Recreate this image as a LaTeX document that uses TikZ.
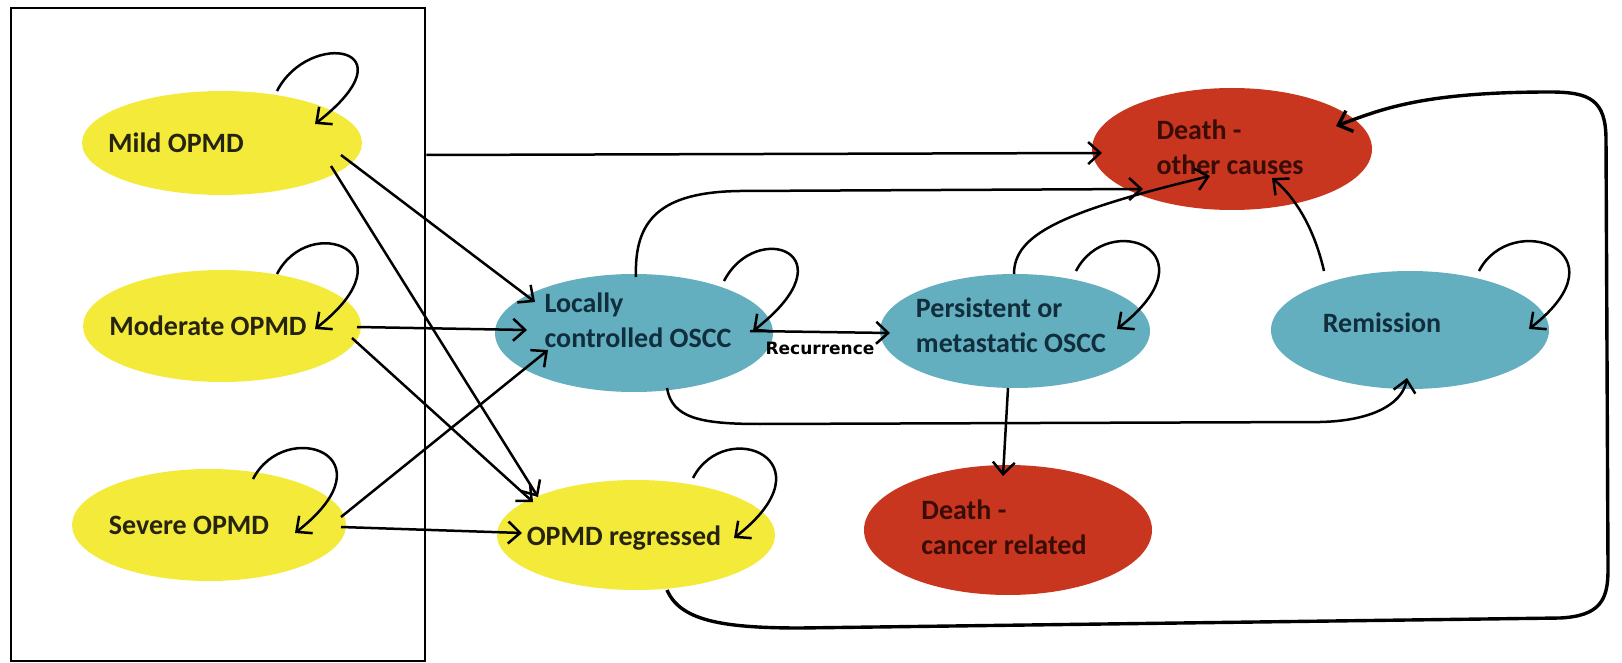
\documentclass[tikz,border=0pt]{standalone}
\usepackage{fontspec}
\setmainfont{Carlito}
\newfontfamily\recfont{DejaVu Sans}
\usepackage{tikz}
\usetikzlibrary{arrows.meta,positioning,shapes.geometric,calc}
\definecolor{opmdyellow}{HTML}{F3EA3A}
\definecolor{osccteal}{HTML}{63AEBF}
\definecolor{deathred}{HTML}{C8361F}
\definecolor{opmdink}{HTML}{262410}
\definecolor{osccink}{HTML}{102E3C}
\definecolor{deathink}{HTML}{3A0C06}

\begin{document}
\begin{tikzpicture}[x=0.5pt,y=-0.5pt,
state/.style={ellipse,inner sep=0pt,outer sep=0pt},
opmd/.style={state,fill=opmdyellow},
oscc/.style={state,fill=osccteal},
death/.style={state,fill=deathred},
txt/.style={font=\fontsize{14}{17.5}\selectfont\bfseries,align=left},
arr/.style={-{Straight Barb[length=6pt,width=11pt]},line width=1.25pt},
big/.style={arr,line width=1.7pt}
]
\useasboundingbox (0,0) rectangle (1622,663);

% OPMD states
\node[draw,line width=1.2pt,anchor=north west,inner sep=0pt,
minimum width=207pt,minimum height=326.5pt] (panel) at (10,7) {};
\node[opmd,minimum width=140pt,minimum height=52pt,
label={[txt,text=opmdink,xshift=-23pt]center:Mild OPMD}] (mild) at (222,143) {};
\node[opmd,minimum width=139pt,minimum height=56pt,
label={[txt,text=opmdink,xshift=-7pt]center:Moderate OPMD}] (moderate) at (222,326) {};
\node[opmd,minimum width=137pt,minimum height=56pt,
label={[txt,text=opmdink,xshift=-10pt]center:Severe OPMD}] (severe) at (209,525) {};
\node[opmd,minimum width=139pt,minimum height=55pt,
label={[txt,text=opmdink,xshift=-6pt,yshift=-1.5pt]center:OPMD regressed}] (regressed) at (636,535) {};

% OSCC states
\node[oscc,minimum width=139pt,minimum height=59pt,
label={[txt,text=osccink,xshift=2pt,yshift=6.5pt]center:{Locally\\controlled OSCC}}] (locally) at (634,333) {};
\node[oscc,minimum width=135pt,minimum height=57pt,
label={[txt,text=osccink,xshift=-2pt,yshift=3pt]center:{Persistent or\\metastatic OSCC}}] (persist) at (1015,331) {};
\node[oscc,minimum width=139pt,minimum height=59pt,
label={[txt,text=osccink,xshift=-14pt,yshift=3.5pt]center:Remission}] (remission) at (1410,330) {};

% death states
\node[death,minimum width=140pt,minimum height=61pt,
label={[txt,text=deathink,xshift=-1pt,yshift=1pt]center:{Death -\\other causes}}] (dother) at (1232,149) {};
\node[death,minimum width=144pt,minimum height=65pt,
label={[txt,text=deathink,xshift=-2pt,yshift=1.5pt]center:{Death -\\cancer related}}] (dcancer) at (1008,530) {};

% staying in the same state
\foreach \n/\a/\b/\c/\d in {mild/55/-52/93/-19,moderate/55/-52/93/3,
severe/44/-46/86/8,locally/90/-52/119/-2,persist/61/-60/102/-2,
remission/69/-59/119/-1,regressed/57/-57/98/3}
\draw[arr] ($(\n)+(\a,\b)$) .. controls +(32,-62) and +(100,-78) .. ($(\n)+(\c,\d)$);

% transitions out of the OPMD states
\draw[arr] ([yshift=-6pt]panel.east |- mild) -- ($(dother)+(-130,4)$);
\draw[arr] ($(mild)+(119,12)$) -- ($(locally)+(-99,-31)$);
\draw[arr] ($(mild)+(109,23)$) -- ($(regressed)+(-98,-38)$);
\draw[arr] ($(moderate)+(135,1)$) -- ($(locally)+(-107,-3)$);
\draw[arr] ($(moderate)+(130,12)$) -- ($(regressed)+(-103,-33)$);
\draw[arr] ($(severe)+(132,-8)$) -- ($(locally)+(-86,17)$);
\draw[arr] ($(severe)+(132,2)$) -- ($(regressed)+(-114,-2)$);

% transitions out of the OSCC states
\draw[arr] ($(locally)+(116,-2)$) -- node[below=1pt,font=\recfont\bfseries\fontsize{8.5}{10}\selectfont] {Recurrence} ($(persist)+(-125,2)$);
\draw[arr] ($(locally)+(2,-56)$) .. controls (634,220) and (660,192) .. (740,191) -- ($(dother)+(-89,40)$);
\draw[arr] ($(persist)+(-1,-57)$) .. controls (1014,235) and (1060,212) .. ($(dother)+(-22,27)$);
\draw[arr] ($(remission)+(-86,-59)$) .. controls (1315,232) and (1298,200) .. ($(dother)+(40,29)$);
\draw[arr] ($(locally)+(33,55)$) .. controls (672,418) and (700,424) .. (760,424)
-- (1320,422) .. controls (1370,421) and (1402,405) .. ($(remission)+(-3,48)$);
\draw[arr] ($(persist)+(-7,57)$) -- ($(dcancer)+(-5,-54)$);
\draw[big] ($(regressed)+(31,55)$) .. controls (680,620) and (720,628) .. (800,628)
-- (1560,618) .. controls (1600,616) and (1608,600) .. (1608,570)
-- (1606,140) .. controls (1606,100) and (1590,92) .. (1550,92)
.. controls (1420,92) and (1380,110) .. ($(dother)+(104,-23)$);
\end{tikzpicture}
\end{document}
